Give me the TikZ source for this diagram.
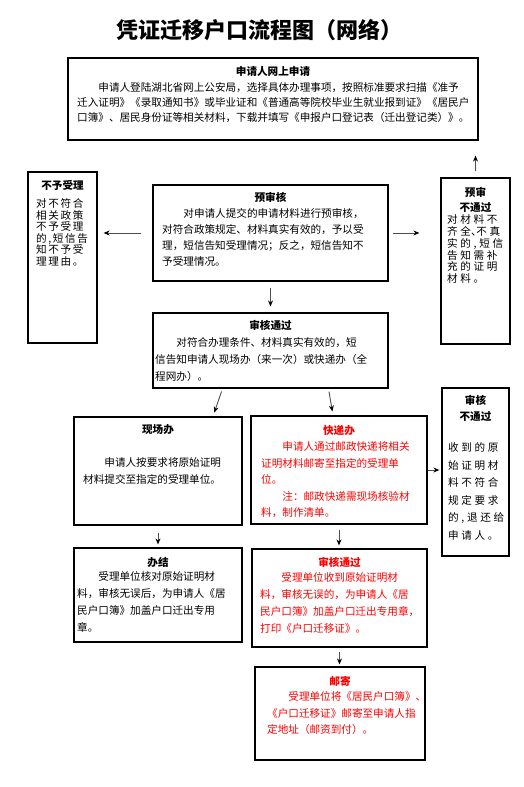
\documentclass[tikz,border=0pt]{standalone}
\usepackage{fontspec}
\setmainfont{Noto Sans CJK SC}
\newfontfamily\spacedA{Noto Sans CJK SC}[LetterSpace=15]
\newfontfamily\spacedB{Noto Sans CJK SC}[LetterSpace=25]
\usetikzlibrary{arrows.meta}
% punctuation squeezed to half width, as in the narrow side boxes
\newcommand\halfpunct[1]{\makebox[.5em][l]{#1}}

\begin{document}
\begin{tikzpicture}[x=1pt,y=-1pt,>=Stealth,
  frame/.style={draw,line width=1.2pt,inner sep=0pt},
  head/.style={inner sep=0pt,align=center,font=\fontsize{10.6pt}{16pt}\selectfont\bfseries},
  body/.style={anchor=north west,inner sep=0pt,align=left,font=\fontsize{10.6pt}{#1}\selectfont},
  arr/.style={->,draw=black!70,line width=0.9pt,arrows={-Stealth[length=6pt,width=5pt,black]}}]
  \useasboundingbox (0,0) rectangle (524,787);

  \node[font=\fontsize{22pt}{24pt}\selectfont\bfseries] (title) at (259,30) {凭证迁移户口流程图（网络）};

  % top row: online application
  \node[frame,minimum width=410pt,minimum height=82pt] (apply) at (273,99) {};
  \node[head] (apply-h) at (273,71) {申请人网上申请};
  \node[body=15pt] (apply-b) at (77,82.5) {\hspace*{2em}申请人登陆湖北省网上公安局，选择具体办理事项，按照标准要求扫描《准予\\
    迁入证明》《录取通知书》或毕业证和《普通高等院校毕业生就业报到证》《居民户\\
    口簿》、居民身份证等相关材料，下载并填写《申报户口登记表（迁出登记类）》。};

  % second row: reject / pre-check / pre-check failed
  \node[frame,minimum width=69pt,minimum height=171pt] (reject) at (62.5,257.5) {};
  \node[head] (reject-h) at (62.5,185) {不予受理};
  \node[body=11.5pt,font=\spacedA\fontsize{10.6pt}{11.5pt}\selectfont] (reject-b) at (36,198.5)
    {对不符合\\相关政策\\不予受理\\的,短信告\\知不予受\\理理由。};

  \node[frame,minimum width=235pt,minimum height=96pt] (precheck) at (270.5,233) {};
  \node[head] (precheck-h) at (270.5,197) {预审核};
  \node[body=16pt] (precheck-b) at (162,208.5) {\hspace*{2em}对申请人提交的申请材料进行预审核，\\
    对符合政策规定、材料真实有效的，予以受\\理，短信告知受理情况；反之，短信告知不\\予受理情况。};

  \node[frame,minimum width=69pt,minimum height=166pt] (prefail) at (475.5,261) {};
  \node[head,font=\fontsize{10.6pt}{15pt}\selectfont\bfseries] (prefail-h) at (475.5,199.5) {预审\\不通过};
  \node[body=11.8pt,font=\spacedB\fontsize{10.6pt}{11.8pt}\selectfont] (prefail-b) at (447,214.5)
    {对材料不\\齐全\halfpunct{、}不真\\实的,短信\\告知需补\\充的证明\\材料。};

  % third row: check passed
  \node[frame,minimum width=235pt,minimum height=75pt] (pass) at (270.5,350.5) {};
  \node[head] (pass-h) at (270.5,325) {审核通过};
  \node[body=17pt] (pass-b) at (155,337.5) {\hspace*{2em}对符合办理条件、材料真实有效的，短\\
    信告知申请人现场办（来一次）或快递办（全\\程网办）。};

  % fourth row: on site / express / check failed
  \node[frame,minimum width=168pt,minimum height=108pt] (onsite) at (158,471) {};
  \node[head] (onsite-h) at (158,430) {现场办};
  \node[body=17pt] (onsite-b) at (83,457.5) {\hspace*{2em}申请人按要求将原始证明\\材料提交至指定的受理单位。};

  \node[frame,minimum width=176pt,minimum height=108pt] (express) at (339,470) {};
  \node[head,red] (express-h) at (339,430) {快递办};
  \node[body=16.5pt,red] (express-b) at (261,441.5) {\hspace*{2em}申请人通过邮政快递将相关\\
    证明材料邮寄至指定的受理单\\位。\\\hspace*{2em}注：邮政快递需现场核验材\\料，制作清单。};

  \node[frame,minimum width=67pt,minimum height=168pt] (checkfail) at (475.5,472) {};
  \node[head] (checkfail-h) at (475.5,408) {审核\\不通过};
  \node[body=17.5pt,font=\spacedB\fontsize{10.6pt}{17.5pt}\selectfont] (checkfail-b) at (448,442.5)
    {收到的原\\始证明材\\料不符合\\规定要求\\的,退还给\\申请人。};

  % fifth row: finished / express check passed
  \node[frame,minimum width=168pt,minimum height=94pt] (done) at (158,595) {};
  \node[head] (done-h) at (158,562) {办结};
  \node[body=17pt] (done-b) at (77,571.5) {\hspace*{2em}受理单位核对原始证明材\\
    料，审核无误后，为申请人《居\\民户口簿》加盖户口迁出专用\\章。};

  \node[frame,minimum width=175pt,minimum height=98pt] (passred) at (339.5,598) {};
  \node[head,red] (passred-h) at (339.5,562) {审核通过};
  \node[body=17pt,red] (passred-b) at (260,572.5) {\hspace*{2em}受理单位收到原始证明材\\
    料，审核无误的，为申请人《居\\民户口簿》加盖户口迁出专用章，\\打印《户口迁移证》。};

  % last row: mailing
  \node[frame,minimum width=170pt,minimum height=93pt] (mail) at (340,713.5) {};
  \node[head,red] (mail-h) at (340,681) {邮寄};
  \node[body=16.5pt,red] (mail-b) at (267,691.5) {\hspace*{2em}受理单位将《居民户口簿》\halfpunct{、}\\
    《户口迁移证》邮寄至申请人指\\定地址（邮资到付）。};

  % connectors
  \draw[arr,shorten <=6pt,shorten >=15pt] (prefail.north) -- (prefail.north |- apply.south);
  \draw[arr,shorten <=11pt,shorten >=6pt] (precheck.west) -- (precheck.west -| reject.east);
  \draw[arr,shorten <=4pt,shorten >=21pt] (precheck.east) -- (precheck.east -| prefail.west);
  \draw[arr,shorten <=6pt,shorten >=6pt]  (precheck.south) -- (pass.north);
  \draw[arr,shorten <=3pt,shorten >=4pt]  ([xshift=-48pt]pass.south) -- ([xshift=55pt]onsite.north);
  \draw[arr,shorten <=3pt,shorten >=4pt]  ([xshift=58pt]pass.south) -- ([xshift=-6pt]express.north);
  \draw[arr,shorten <=7pt,shorten >=3pt]  (onsite.south) -- (onsite.south |- done.north);
  \draw[arr,shorten <=5pt,shorten >=3pt]  (express.south) -- (express.south |- passred.north);
  \draw[arr,shorten >=2pt]                (express.east) -- (express.east -| checkfail.west);
  \draw[arr,shorten <=4pt,shorten >=2pt]  (passred.south) -- (passred.south |- mail.north);
\end{tikzpicture}
\end{document}
